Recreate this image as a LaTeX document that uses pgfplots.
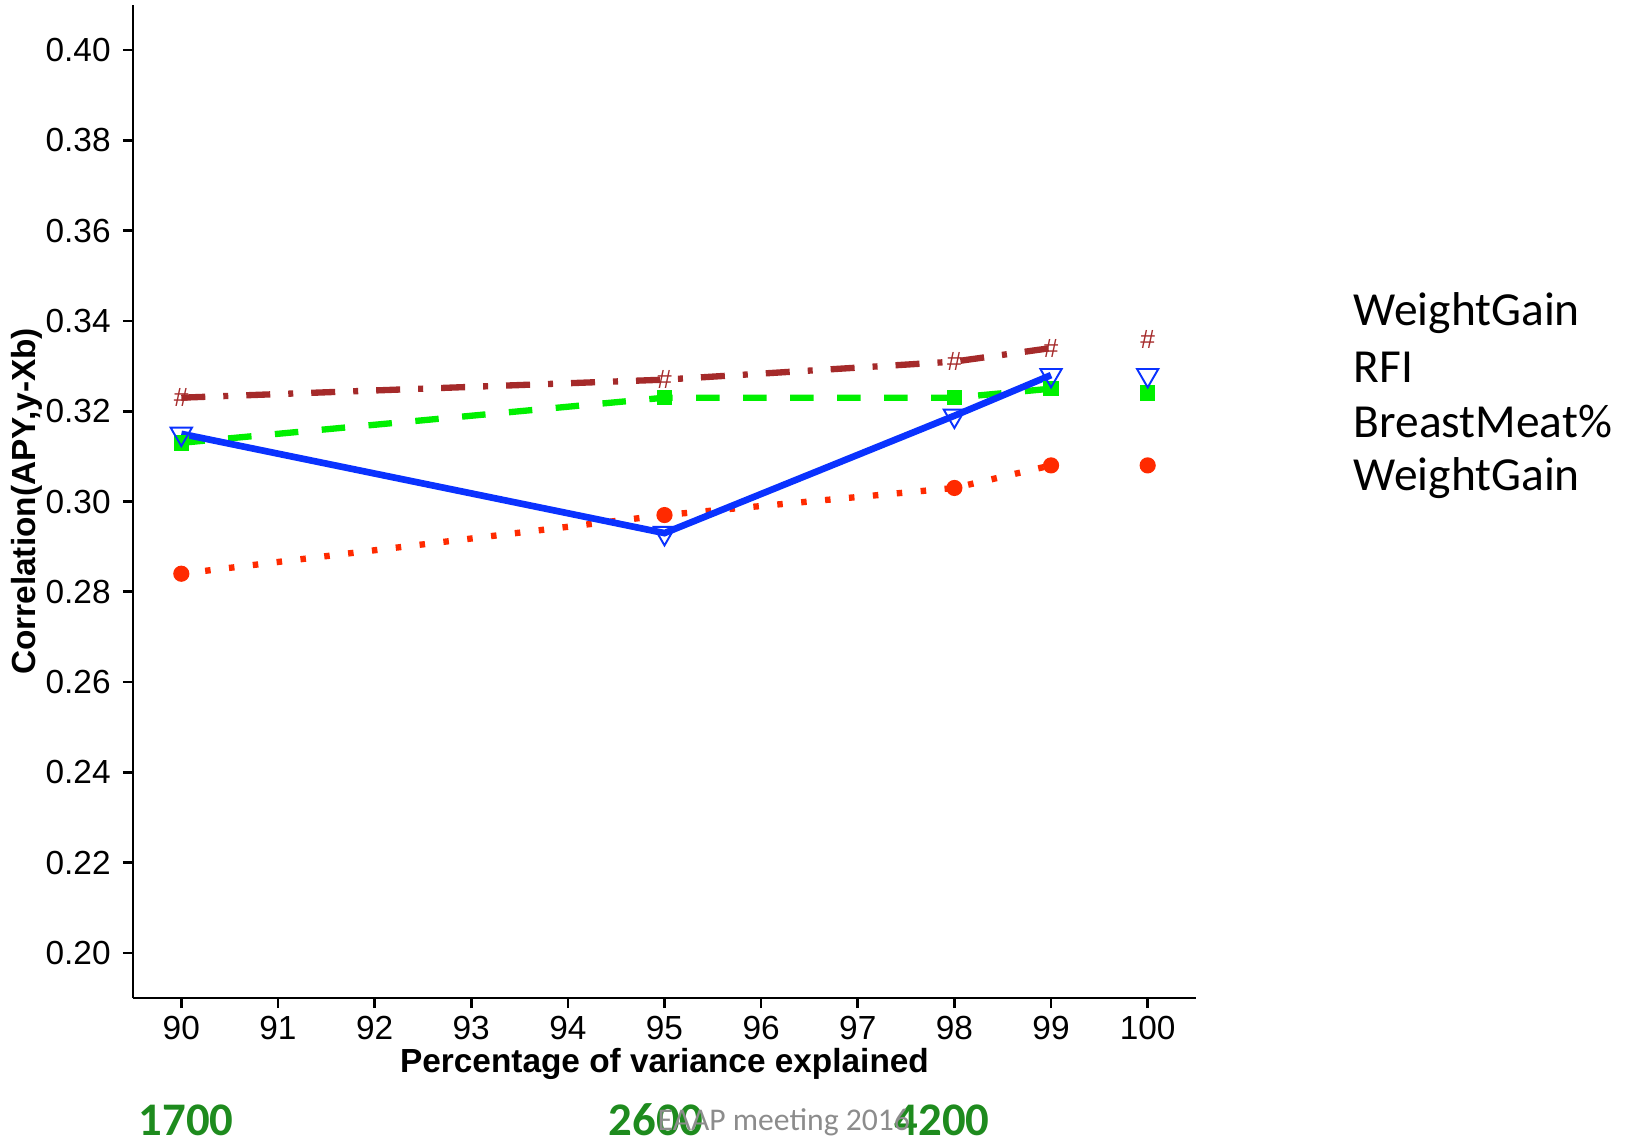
\documentclass[border=0pt]{standalone}
\usepackage{fontspec}
\setmainfont{Liberation Sans}
\newfontfamily\calibri{Carlito}
\usepackage{pgfplots}
\pgfplotsset{compat=1.18}
\definecolor{lineRed}{HTML}{FF2A00}
\definecolor{lineGreen}{HTML}{00F000}
\definecolor{lineBlue}{HTML}{0A32FF}
\definecolor{lineBrown}{HTML}{A52A2A}
\definecolor{numGreen}{HTML}{1E8B1E}
\definecolor{noteGray}{HTML}{8C8C8C}

\begin{document}
\begin{tikzpicture}
\useasboundingbox (-13.3mm,-14.4mm) rectangle (150mm,99.8mm);
\begin{axis}[
  scale only axis,
  width=106.3mm,
  height=99.3mm,
  xmin=89.5, xmax=100.5,
  ymin=0.19, ymax=0.41,
  axis x line*=bottom,
  axis y line*=left,
  axis line style={-, line width=0.75pt},
  tick align=outside,
  major tick length=1mm,
  every tick/.style={black, line width=0.75pt},
  xtick={90,91,92,93,94,95,96,97,98,99,100},
  ytick={0.20,0.22,0.24,0.26,0.28,0.30,0.32,0.34,0.36,0.38,0.40},
  yticklabel style={/pgf/number format/.cd, fixed, fixed zerofill, precision=2},
  xticklabel style={yshift=0.45mm},
  tick label style={font=\fontsize{9.5}{11}\selectfont},
  /pgf/number format/assume math mode=true,
  xlabel={Percentage of variance explained},
  ylabel={Correlation(APY,y-Xb)},
  every axis x label/.style={at={(axis description cs:0.5,-0.0755)}, anchor=base,
    font=\bfseries\fontsize{9.5}{11}\selectfont},
  every axis y label/.style={at={(axis description cs:-0.0997,0.5)}, rotate=90, anchor=center,
    font=\bfseries\fontsize{9.5}{11}\selectfont},
  clip=false,
]
% red dotted series
\addplot[lineRed, line width=1.8pt, line cap=butt, dash pattern=on 0.55mm off 1.85mm,
  mark=*, mark size=2.1pt, mark options={solid, fill=lineRed, draw=lineRed, line width=0.4pt}]
  coordinates {(90,0.284) (95,0.297) (98,0.303) (99,0.308)};
\addplot[only marks, mark=*, mark size=2.1pt, mark options={fill=lineRed, draw=lineRed, line width=0.4pt}]
  coordinates {(100,0.308)};
% green dashed series
\addplot[lineGreen, line width=1.8pt, line cap=butt, dash pattern=on 2.35mm off 2.35mm,
  mark=square*, mark size=2.0pt, mark options={solid, fill=lineGreen, draw=lineGreen, line width=0.4pt}]
  coordinates {(90,0.313) (95,0.323) (98,0.323) (99,0.325)};
\addplot[only marks, mark=square*, mark size=2.0pt, mark options={fill=lineGreen, draw=lineGreen, line width=0.4pt}]
  coordinates {(100,0.324)};
% blue solid series
\addplot[lineBlue, line width=1.9pt,
  mark=triangle, mark size=3.5pt, mark options={solid, rotate=180, line width=0.55pt, draw=lineBlue, fill=none}]
  coordinates {(90,0.315) (95,0.293) (98,0.319) (99,0.328)};
\addplot[only marks, mark=triangle, mark size=3.5pt, mark options={rotate=180, line width=0.55pt, draw=lineBlue, fill=none}]
  coordinates {(100,0.328)};
% brown dash-dot series
\addplot[lineBrown, line width=1.8pt, line cap=butt, dash pattern=on 2.4mm off 1.8mm on 0.5mm off 1.8mm,
  mark=text, text mark={\#}, text mark as node=true,
  text mark style={font=\fontsize{7.5}{8}\selectfont, text=lineBrown, inner sep=0pt}]
  coordinates {(90,0.323) (95,0.327) (98,0.331) (99,0.334)};
\addplot[only marks, mark=text, text mark={\#}, text mark as node=true,
  text mark style={font=\fontsize{7.5}{8}\selectfont, text=lineBrown, inner sep=0pt}]
  coordinates {(100,0.336)};
\end{axis}
% legend text
\begin{scope}[every node/.style={anchor=base west, inner sep=0pt, font=\calibri\fontsize{13.5}{15}\selectfont}]
\node at (122mm,67.3mm) {WeightGain};
\node at (122mm,61.6mm) {RFI};
\node at (122mm,56.1mm) {BreastMeat\%};
\node at (122mm,50.8mm) {WeightGain};
\end{scope}
% numbers of animals and note
\begin{scope}[every node/.style={anchor=base west, inner sep=0pt, text=numGreen, font=\calibri\bfseries\fontsize{13.3}{15}\selectfont}]
\node at (0.5mm,-13.7mm) {1700};
\node at (47.5mm,-13.7mm) {2600};
\node at (76.1mm,-13.7mm) {4200};
\end{scope}
\node[anchor=base west, inner sep=0pt, text=noteGray, font=\calibri\fontsize{9}{10}\selectfont] at (52.4mm,-13.2mm) {EAAP meeting 2016};
\end{tikzpicture}
\end{document}
